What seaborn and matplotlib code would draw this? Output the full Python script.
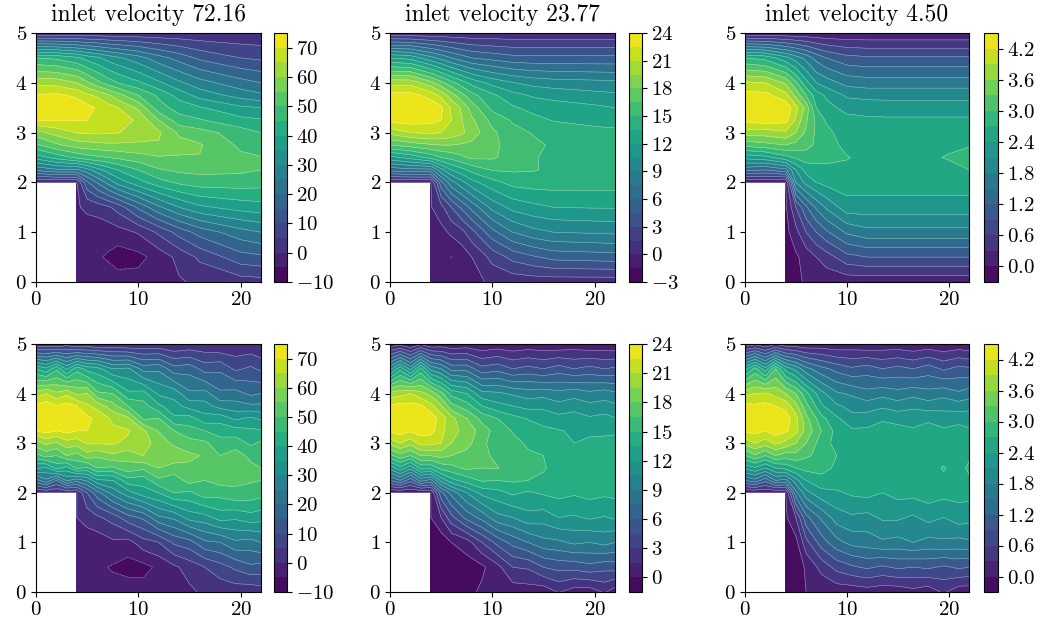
import numpy as np
import matplotlib
matplotlib.use("Agg")
import matplotlib.pyplot as plt
import seaborn as sns

n = np.nan

y_nodes = [0, 0.5, 1, 1.5, 2, 2.25, 2.5, 2.75, 3, 3.25, 3.5, 3.75, 4, 4.5, 5]
x_top = [0, 2, 4, 5, 6, 7, 8, 10, 12, 14, 16, 20, 22]
x_bot = [0, 1, 2, 3, 4, 5, 6, 7.5, 9, 10.5, 12, 13.5, 15, 16.5, 18, 19.5, 21, 22]

titles = ["inlet velocity 72.16", "inlet velocity 23.77", "inlet velocity 4.50"]

# rows go from y=0 up to y=5, nan is the step block
u_top_72 = [
    [n, n, 0, -2, -2, -2.5, -2.5, -3, -2, -0.5, 1, 2.5, 3],
    [n, n, -2, -3, -4.5, -5.5, -7.5, -6.5, -3, 1.5, 6, 13, 14],
    [n, n, -1, -1.5, -3, -3, -2, 0.5, 6, 12, 17, 23, 25],
    [n, n, -0.3, 0.6, 2, 4, 7, 16, 24, 30, 34, 37, 38],
    [0, 0, 0, 14, 20.5, 26.5, 32, 38, 43, 46, 47.5, 47.5, 47],
    [21, 24, 24, 28, 33, 37, 40, 45, 49.5, 51, 51.5, 51, 50],
    [37, 42, 46, 48, 49, 50, 51, 53, 54.5, 54.5, 54.8, 51, 50.2],
    [49, 54, 57.5, 58, 58.5, 59, 59, 59, 59.5, 57, 55.5, 49, 48],
    [58, 62, 65.2, 65.5, 65.8, 65.5, 65.2, 63, 60.8, 54, 52, 47.5, 45],
    [70.5, 70.5, 70.3, 70, 68, 67.8, 67.5, 64.2, 55, 47, 45.5, 41.5, 40.6],
    [73.5, 74, 73, 71.5, 69.5, 67, 65, 59, 47, 43, 40.5, 36, 35],
    [70.5, 71, 69, 66, 64, 61, 57, 50, 44, 38, 33, 28, 26],
    [63.5, 63, 60, 56, 51.5, 48, 45, 41, 36, 31, 27, 22, 20],
    [45, 44, 41, 38, 36, 33, 31, 27, 22, 18, 14, 10, 9],
    [1, 1, 1, 1, 1, 1, 1, 1, 1, 1, 1, 1, 1],
]
u_top_23 = [
    [n, n, 0, -0.8, -1, -1, -0.5, 0.3, 0.5, 0.6, 0.6, 0.6, 0.6],
    [n, n, -0.5, -1, -1.52, -1, 0, 2, 3.5, 4.3, 5, 5.2, 5.3],
    [n, n, -0.5, -0.5, 0.3, 1, 2.5, 5.5, 7.5, 8.5, 9, 9.2, 9.3],
    [n, n, -0.1, 1, 3, 4.8, 6.5, 9.5, 11, 11.6, 12, 12.1, 12.1],
    [0, 0, 0, 5.5, 8.5, 10, 11.5, 13, 14, 14.2, 14.2, 14.2, 14.2],
    [6.5, 7, 7, 10, 12, 13, 14, 15.1, 15.2, 15.1, 14.7, 14.5, 14.5],
    [11.5, 12.5, 14, 15, 15.5, 16.2, 16.8, 16.7, 15.9, 15.1, 14.7, 14.5, 14.5],
    [16.5, 17.2, 17.8, 18, 18, 17.8, 17.6, 16.8, 16, 15.3, 14.8, 14.4, 14.4],
    [20, 21, 21.3, 21, 20.5, 19.8, 18.8, 16.8, 15.5, 14.9, 14.5, 13.9, 13.8],
    [23, 23.2, 23, 22.5, 21, 19.6, 18.3, 16, 14.8, 14, 13.4, 13.1, 13],
    [23.5, 23.6, 23.3, 22.8, 20.8, 19.3, 17.3, 14.6, 13.7, 13, 12.7, 12.3, 12],
    [23, 23, 22, 20.5, 18.7, 17, 15.5, 13.8, 12.5, 11.8, 11.5, 11, 10.8],
    [20.5, 20.5, 18.5, 17, 15.5, 14.2, 13, 11.5, 10.6, 10, 9.7, 9.5, 9.4],
    [12, 11.5, 9.5, 8.5, 7.5, 6.7, 6, 5.5, 5, 4.9, 4.9, 4.9, 4.9],
    [0.3, 0.3, 0.3, 0.3, 0.3, 0.3, 0.3, 0.3, 0.3, 0.3, 0.3, 0.3, 0.3],
]
u_top_4 = [
    [n, n, -0.15, -0.05, 0.03, 0.05, 0.1, 0.1, 0.1, 0.1, 0.1, 0.1, 0.1],
    [n, n, -0.2, -0.05, 0.12, 0.3, 0.45, 0.8, 0.9, 0.9, 0.9, 0.9, 0.9],
    [n, n, -0.1, 0.2, 0.6, 0.9, 1.15, 1.55, 1.7, 1.7, 1.7, 1.7, 1.7],
    [n, n, -0.05, 0.6, 1.15, 1.55, 1.85, 2.27, 2.27, 2.27, 2.27, 2.27, 2.27],
    [0, 0, 0, 1.8, 2.2, 2.4, 2.5, 2.55, 2.55, 2.55, 2.55, 2.55, 2.55],
    [1.3, 1.2, 1.4, 2.1, 2.5, 2.55, 2.6, 2.62, 2.6, 2.6, 2.6, 2.62, 2.7],
    [2.2, 2.3, 2.6, 2.75, 2.85, 2.85, 2.8, 2.72, 2.6, 2.6, 2.6, 2.72, 2.8],
    [3.1, 3.2, 3.3, 3.2, 3.1, 2.95, 2.85, 2.6, 2.6, 2.6, 2.6, 2.65, 2.68],
    [3.75, 3.75, 3.85, 3.6, 3.25, 2.95, 2.8, 2.5, 2.55, 2.55, 2.55, 2.55, 2.55],
    [4.3, 4.35, 4.3, 3.85, 3.35, 2.95, 2.65, 2.5, 2.45, 2.45, 2.45, 2.45, 2.45],
    [4.45, 4.45, 4.4, 4, 3.5, 2.7, 2.5, 2.3, 2.28, 2.25, 2.25, 2.25, 2.25],
    [4.3, 4.3, 4, 3.5, 3, 2.55, 2.35, 2.05, 2, 2, 2, 2, 2],
    [3.95, 3.9, 3.55, 3.05, 2.5, 2.1, 1.95, 1.7, 1.65, 1.65, 1.65, 1.65, 1.65],
    [2.7, 2.6, 2.2, 1.95, 1.7, 1.4, 1.2, 1, 0.95, 0.95, 0.95, 0.95, 0.95],
    [0.05, 0.05, 0.05, 0.05, 0.05, 0.05, 0.05, 0.05, 0.05, 0.05, 0.05, 0.05, 0.05],
]

u_bot_72 = [
    [n, n, n, n, 0, -2, -3, -3, -2, -3, -2, -1, -1, 1, 1.5, 2, 1, 2.5],
    [n, n, n, n, -2, -3, -4, -5.5, -7, -6.5, -4, -1, 2, 5, 8, 11, 14, 13],
    [n, n, n, n, -2, -3, -3, -1, -2, 3, 5, 11, 13, 19, 20, 24, 23, 25],
    [n, n, n, n, 0, 2, 4, 7, 13, 16, 24, 26, 32, 33, 37, 36, 38, 37],
    [0, 0, 0, 0, 0, 10, 18, 27, 33, 38, 40, 45, 44, 48, 47, 49, 48, 47],
    [18, 24, 15, 26, 22, 26, 34, 35, 43, 42, 49, 47, 52, 50, 52, 51, 50.5, 50],
    [36, 34, 42, 38, 46, 44, 50, 49, 53, 51, 55, 53, 54, 52, 52, 50.5, 51, 50],
    [48, 52, 50, 55, 53, 58, 56, 59, 57, 60, 57, 58, 56, 54.5, 50, 52, 49, 49],
    [58, 61, 59, 63, 62, 65.5, 65.5, 65.5, 64, 62, 58, 54, 52, 51, 47, 48, 44, 46],
    [70, 72, 70, 71.5, 70, 70, 68, 66, 65.5, 61, 54.5, 50, 47, 45, 43, 42, 41, 40.5],
    [73, 74, 72.5, 74, 72, 71, 69, 64, 61, 49, 50, 41, 42, 37, 38, 34, 36, 34],
    [71, 73, 70.5, 72, 70, 66, 63, 57, 50, 47, 41, 37, 33, 32, 28, 27, 26, 26],
    [62, 65, 61, 64, 59, 60, 51, 50, 41, 42, 34, 33, 26, 27, 21, 22, 19, 20],
    [40, 36, 44, 34, 43, 38, 37, 30, 31, 23, 24, 17, 18, 13, 14, 9, 11, 9],
    [1, 2, 0, 3, 0, 1, 0, 1, 0, 1, 1, 0, 1, 1, 0, 1, 1, 0],
]
u_bot_23 = [
    [n, n, n, n, -0.8, -1, -1, -0.5, 0.3, 0.5, 0.6, 0.7, 0.5, 1.6, 0.7, 0.6, 1.7, 0.6],
    [n, n, n, n, -1, -1, -1, -0.8, -0.3, 1, 3, 3.2, 4.5, 5, 5, 5.5, 5, 5.2],
    [n, n, n, n, -1, -1, 0, 0.8, 3, 5, 6.5, 7.5, 8.5, 8.7, 9.3, 9, 9.5, 9],
    [n, n, n, n, 0, 1.5, 4, 6.5, 8, 10, 10.5, 11.5, 11.2, 12, 11.8, 12.2, 11.9, 12.2],
    [0, 0, 0, 0, 0, 5.5, 8, 10.5, 12.5, 13, 13.8, 13.3, 13.7, 14, 13.7, 14, 13.8, 13.9],
    [6, 7.5, 5, 8, 7, 11, 13, 14.2, 15.2, 15, 15.2, 15, 14.8, 14.5, 14.7, 14.4, 14.6, 14.5],
    [11, 13, 11, 14, 14, 15.5, 16, 16.8, 16.5, 16.6, 15.5, 15.3, 15.1, 14.6, 14.4, 14.6, 14.4, 14.5],
    [16, 17.5, 16.5, 18, 18, 18.5, 18, 17.5, 17, 16, 15.8, 15.2, 15, 14.5, 14.7, 14.4, 14.5, 14.6],
    [20, 21, 20, 21.5, 21.5, 21, 19.5, 18.5, 17, 15.3, 15.4, 14.8, 14.4, 14, 13.5, 13.8, 14.2, 14.3],
    [22.8, 23.2, 22.7, 23.2, 23, 21.5, 20, 19, 17.3, 15.8, 14.9, 14.3, 13.8, 13.6, 13.3, 13.2, 13, 13.1],
    [23.5, 23.7, 23.6, 23.8, 23.4, 21.8, 20, 18, 16, 15, 14, 13.4, 13, 12.5, 12.8, 12.2, 12.5, 12.1],
    [22.8, 23, 23, 22.8, 21.5, 19.7, 17, 15.7, 13.5, 12.5, 12, 11.5, 11.6, 11, 11.3, 10.9, 11.1, 10.8],
    [20, 20.5, 21, 20, 19, 17, 14.5, 13.5, 11, 10.8, 10.3, 9.8, 10, 9.5, 10, 9.4, 9.8, 9.3],
    [10, 13, 10, 14, 10, 9, 7, 7, 5, 5.5, 4.5, 5, 4.5, 5.2, 4.5, 5, 4.5, 4.8],
    [0.5, 1, 0, 1.2, 0.3, 0.5, 0.3, 0.5, 0.2, 0.5, 0.3, 0.5, 0.4, 0.3, 0.6, 0.3, 0.5, 0.2],
]
u_bot_4 = [
    [n, n, n, n, -0.2, -0.2, 0, 0.05, 0.1, 0.1, 0.15, 0.1, 0.1, 0.2, 0.1, 0.35, 0.1, 0.1],
    [n, n, n, n, -0.2, -0.2, 0.05, 0.4, 0.7, 0.85, 0.95, 0.85, 0.95, 0.9, 0.95, 0.85, 0.95, 0.9],
    [n, n, n, n, -0.2, -0.1, 0.5, 1.05, 1.4, 1.6, 1.65, 1.75, 1.7, 1.8, 1.7, 1.75, 1.7, 1.75],
    [n, n, n, n, -0.05, 0.3, 1.1, 1.55, 1.95, 2.05, 2, 2.15, 2.15, 2.05, 2.2, 2.1, 2.25, 2.2],
    [0, 0, 0, 0, 0, 1.4, 2, 2.3, 2.35, 2.45, 2.5, 2.4, 2.5, 2.5, 2.55, 2.5, 2.5, 2.5],
    [1.2, 1.4, 1, 1.5, 1.4, 2, 2.4, 2.6, 2.58, 2.58, 2.6, 2.62, 2.6, 2.6, 2.6, 2.65, 2.6, 2.65],
    [2.2, 2.35, 2.1, 2.4, 2.5, 2.7, 2.8, 2.8, 2.65, 2.58, 2.6, 2.6, 2.62, 2.6, 2.6, 2.72, 2.6, 2.75],
    [3, 3.25, 3, 3.3, 3.15, 3.2, 3.05, 2.9, 2.7, 2.6, 2.55, 2.6, 2.6, 2.62, 2.6, 2.6, 2.65, 2.65],
    [3.7, 3.9, 3.75, 3.95, 3.8, 3.6, 3.3, 2.85, 2.6, 2.4, 2.5, 2.6, 2.6, 2.55, 2.6, 2.6, 2.55, 2.6],
    [4.25, 4.3, 4.2, 4.35, 4.25, 4, 3.5, 3, 2.6, 2.45, 2.45, 2.55, 2.5, 2.45, 2.5, 2.45, 2.5, 2.45],
    [4.4, 4.45, 4.45, 4.45, 4.35, 4, 3.4, 2.8, 2.45, 2.2, 2.25, 2.35, 2.3, 2.25, 2.35, 2.25, 2.3, 2.25],
    [4.3, 4.25, 4.3, 4.2, 4.1, 3.7, 3.1, 2.45, 2.15, 2, 1.95, 2.05, 1.95, 2.05, 1.95, 2, 1.95, 2],
    [3.8, 3.9, 3.95, 3.8, 3.6, 3.3, 2.8, 2.2, 1.85, 1.75, 1.6, 1.7, 1.6, 1.7, 1.6, 1.7, 1.55, 1.65],
    [2.3, 2.8, 2.2, 3, 2.3, 2, 1.6, 1.3, 1.1, 0.95, 1.05, 0.9, 1, 0.9, 1.05, 0.85, 1, 0.95],
    [0.1, 0.2, 0.05, 0.25, 0.1, 0.1, 0.05, 0.1, 0.05, 0.1, 0.05, 0.1, 0.1, 0.05, 0.1, 0.05, 0.1, 0.05],
]

levels_72 = np.arange(-10, 76, 5)
levels_23_top = np.arange(-3, 24.1, 1.5)
levels_23_bot = np.arange(-1.5, 24.1, 1.5)
levels_4 = np.arange(-0.3, 4.51, 0.3)

ticks_72 = [-10, 0, 10, 20, 30, 40, 50, 60, 70]
ticks_23_top = [-3, 0, 3, 6, 9, 12, 15, 18, 21, 24]
ticks_23_bot = [0, 3, 6, 9, 12, 15, 18, 21, 24]
ticks_4 = [0.0, 0.6, 1.2, 1.8, 2.4, 3.0, 3.6, 4.2]

sns.set_theme(style="ticks", rc={
    "axes.edgecolor": "black",
    "xtick.color": "black",
    "ytick.color": "black",
    "text.color": "black",
    "axes.linewidth": 0.8,
    "xtick.major.size": 3.5,
    "ytick.major.size": 3.5,
    "xtick.major.width": 0.8,
    "ytick.major.width": 0.8,
})
plt.rcParams["font.family"] = ["cmr10"]
plt.rcParams["mathtext.fontset"] = "cm"
plt.rcParams["axes.formatter.use_mathtext"] = True
plt.rcParams["axes.unicode_minus"] = True

cmap = sns.color_palette("viridis", as_cmap=True)

W, H = 1045, 630
fig = plt.figure(figsize=(W / 100, H / 100), dpi=100)


def pixel_axes(x0, y0, x1, y1):
    return fig.add_axes([x0 / W, 1 - y1 / H, (x1 - x0) / W, (y1 - y0) / H])


def draw_panel(box, cbox, x, z, levels, ticks, title=None):
    ax = pixel_axes(*box)
    z = np.ma.masked_invalid(np.array(z, dtype=float))
    cf = ax.contourf(x, y_nodes, z, levels=levels, cmap=cmap, corner_mask=False)
    ax.contour(x, y_nodes, z, levels=levels, colors="white", linewidths=0.35,
               alpha=0.55, corner_mask=False)
    ax.set_xlim(0, 22)
    ax.set_ylim(0, 5)
    ax.set_xticks([0, 10, 20])
    ax.set_yticks([0, 1, 2, 3, 4, 5])
    ax.tick_params(labelsize=15, pad=3)
    if title:
        ax.set_title(title, fontsize=17, pad=9)
    cax = pixel_axes(*cbox)
    cbar = fig.colorbar(cf, cax=cax, ticks=ticks)
    cbar.ax.tick_params(labelsize=15, pad=3)
    cbar.outline.set_linewidth(0.8)
    return ax


xs = [(36, 261), (390, 615), (745, 969)]
cs = [(274, 287), (629, 642), (984, 998)]
top, bot = (33, 282), (344, 592)

top_data = [u_top_72, u_top_23, u_top_4]
bot_data = [u_bot_72, u_bot_23, u_bot_4]
top_levels = [levels_72, levels_23_top, levels_4]
bot_levels = [levels_72, levels_23_bot, levels_4]
top_ticks = [ticks_72, ticks_23_top, ticks_4]
bot_ticks = [ticks_72, ticks_23_bot, ticks_4]

for i in range(3):
    draw_panel((xs[i][0], top[0], xs[i][1], top[1]), (cs[i][0], top[0], cs[i][1], top[1]),
               x_top, top_data[i], top_levels[i], top_ticks[i], titles[i])
    draw_panel((xs[i][0], bot[0], xs[i][1], bot[1]), (cs[i][0], bot[0], cs[i][1], bot[1]),
               x_bot, bot_data[i], bot_levels[i], bot_ticks[i])

fig.savefig("out.png", dpi=100)
